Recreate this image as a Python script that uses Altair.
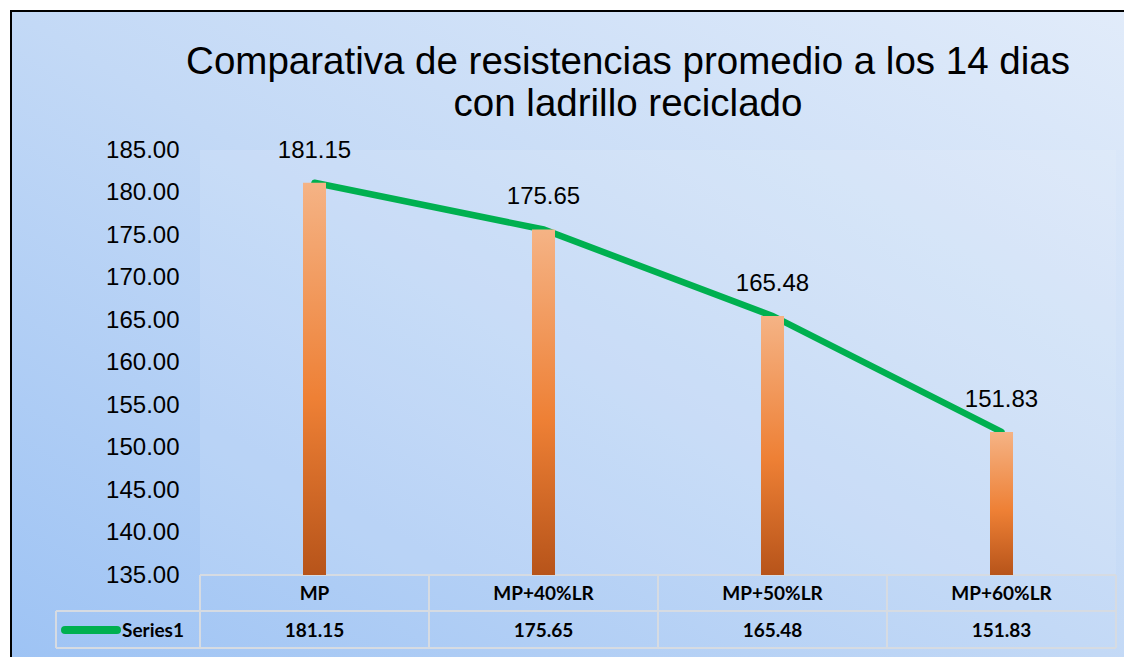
import altair as alt
import pandas as pd

# ---- data ----
categories = ["MP", "MP+40%LR", "MP+50%LR", "MP+60%LR"]
values = [181.15, 175.65, 165.48, 151.83]
y_ticks = [135, 140, 145, 150, 155, 160, 165, 170, 175, 180, 185]
title_lines = ["Comparativa de resistencias promedio a los 14 dias", "con ladrillo reciclado"]
series_name = "Series1"

# ---- layout constants ----
W, H = 916, 425
Y_MIN, Y_MAX = 135, 185
GREEN = "#00b050"
FONT = "Liberation Sans"
TFONT = "Lato"
band = W / len(categories)

df = pd.DataFrame({"cat": categories, "val": values})
one = pd.DataFrame({"k": [0]})

x_enc = alt.X("cat:N", sort=categories,
              scale=alt.Scale(domain=categories, paddingInner=0, paddingOuter=0),
              axis=None)
y_scale = alt.Scale(domain=[Y_MIN, Y_MAX], zero=False, nice=False)
y_enc = alt.Y("val:Q", scale=y_scale,
              axis=alt.Axis(values=y_ticks, format=".2f", labelFontSize=24, labelFont=FONT,
                            labelColor="black", domain=False, ticks=False, tickSize=0,
                            grid=False, labelPadding=21, title=None, zindex=5))

bg_grad = {"gradient": "linear", "x1": 0, "y1": 1, "x2": 1, "y2": 0,
           "stops": [{"offset": 0, "color": "#9cc2f4"},
                     {"offset": 0.5, "color": "#c3d9f6"},
                     {"offset": 1, "color": "#e2ecfa"}]}
bar_grad = {"gradient": "linear", "x1": 0, "y1": 0, "x2": 0, "y2": 1,
            "stops": [{"offset": 0, "color": "#f5b385"},
                      {"offset": 0.55, "color": "#ee8035"},
                      {"offset": 1, "color": "#b7541a"}]}

line = alt.Chart(df).mark_line(color=GREEN, strokeWidth=6.5, strokeCap="round").encode(
    x=x_enc, y=y_enc)
bars = alt.Chart(df).mark_bar(size=23, fill=bar_grad).encode(
    x=x_enc, y=y_enc, y2=alt.datum(Y_MIN))
labels = alt.Chart(df).mark_text(dy=-32, fontSize=24, font=FONT, color="black",
                                 baseline="middle").encode(
    x=x_enc, y=y_enc, text=alt.Text("val:Q", format=".2f"))

background = alt.Chart(one).mark_rect(fill=bg_grad, stroke="black", strokeWidth=2).encode(
    x=alt.value(-189), x2=alt.value(960), y=alt.value(-139), y2=alt.value(540))
plot_bg = alt.Chart(one).mark_rect(fill="white", opacity=0.10).encode(
    x=alt.value(0), x2=alt.value(W), y=alt.value(0), y2=alt.value(H))

# data table grid
L = -144
T1, T2 = H + 36, H + 73
segs = [(0, W, H, H), (L, W, T1, T1), (L, W, T2, T2), (L, L, T1, T2)] + \
       [(band * i, band * i, H, T2) for i in range(len(categories) + 1)]
grid_layers = [
    alt.Chart(one).mark_rule(color="#d6dbe2", strokeWidth=2).encode(
        x=alt.value(a), x2=alt.value(b), y=alt.value(c), y2=alt.value(d))
    for a, b, c, d in segs
]

cat_text = alt.Chart(df).mark_text(fontSize=19, font=TFONT, fontWeight="bold",
                                   color="black", baseline="middle").encode(
    x=x_enc, y=alt.value(H + 19), text="cat:N")
val_text = alt.Chart(df).mark_text(fontSize=19, font=TFONT, fontWeight="bold",
                                   color="black", baseline="middle").encode(
    x=x_enc, y=alt.value(H + 55.5), text=alt.Text("val:Q", format=".2f"))

legend_key = alt.Chart(one).mark_rule(color=GREEN, strokeWidth=8, strokeCap="round").encode(
    x=alt.value(L + 9), x2=alt.value(L + 61), y=alt.value(H + 55))
legend_txt = alt.Chart(pd.DataFrame({"t": [series_name]})).mark_text(
    fontSize=19, font=TFONT, fontWeight="bold", color="black", align="left",
    baseline="middle").encode(x=alt.value(L + 66), y=alt.value(H + 55.5), text="t:N")

title_layers = [
    alt.Chart(pd.DataFrame({"t": [t]})).mark_text(
        fontSize=38.5, font=FONT, color="black", align="center", baseline="alphabetic"
    ).encode(x=alt.value(428), y=alt.value(yy), text="t:N")
    for t, yy in zip(title_lines, [-76, -34])
]

chart = alt.layer(
    line, background, plot_bg, *grid_layers, line, bars, labels, cat_text, val_text,
    legend_key, legend_txt, *title_layers
).properties(
    width=W, height=H,
    autosize=alt.AutoSizeParams(type="none"),
    padding={"left": 192, "top": 142, "right": 8, "bottom": 82},
).configure_view(stroke=None).configure(background="white")

chart.save("out.html", embed_options={"renderer": "svg", "actions": False})
